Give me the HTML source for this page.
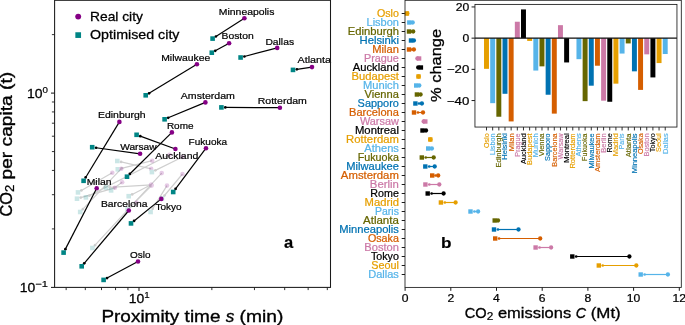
<!DOCTYPE html>
<html lang="en"><head><meta charset="utf-8"><title>Proximity time and CO2 emissions</title>
<style>
html,body{margin:0;padding:0;background:#fff;}
svg{display:block;will-change:transform;}
svg text{font-family:"Liberation Sans",sans-serif;white-space:pre;}
</style></head><body>
<svg width="685" height="325" viewBox="0 0 685 325">
<rect x="0" y="0" width="685" height="325" fill="#fff"/>
<g opacity="0.19">
<line x1="151.20" y1="168.90" x2="121.10" y2="161.89" stroke="#000" stroke-width="1.2" stroke-linecap="butt"/>
<circle cx="121.10" cy="161.89" r="1.35" fill="#000"/>
<line x1="152.20" y1="160.70" x2="121.58" y2="168.35" stroke="#000" stroke-width="1.2" stroke-linecap="butt"/>
<circle cx="121.58" cy="168.35" r="1.35" fill="#000"/>
<line x1="182.50" y1="157.00" x2="155.40" y2="170.37" stroke="#000" stroke-width="1.2" stroke-linecap="butt"/>
<circle cx="155.40" cy="170.37" r="1.35" fill="#000"/>
<line x1="112.30" y1="172.80" x2="81.39" y2="190.47" stroke="#000" stroke-width="1.2" stroke-linecap="butt"/>
<circle cx="81.39" cy="190.47" r="1.35" fill="#000"/>
<line x1="161.70" y1="173.10" x2="95.05" y2="245.14" stroke="#000" stroke-width="1.2" stroke-linecap="butt"/>
<circle cx="95.05" cy="245.14" r="1.35" fill="#000"/>
<line x1="167.00" y1="185.60" x2="152.66" y2="208.69" stroke="#000" stroke-width="1.2" stroke-linecap="butt"/>
<circle cx="152.66" cy="208.69" r="1.35" fill="#000"/>
<line x1="121.30" y1="168.70" x2="82.88" y2="209.17" stroke="#000" stroke-width="1.2" stroke-linecap="butt"/>
<circle cx="82.88" cy="209.17" r="1.35" fill="#000"/>
<line x1="151.00" y1="184.70" x2="132.17" y2="194.41" stroke="#000" stroke-width="1.2" stroke-linecap="butt"/>
<circle cx="132.17" cy="194.41" r="1.35" fill="#000"/>
<line x1="114.90" y1="187.80" x2="80.75" y2="197.62" stroke="#000" stroke-width="1.2" stroke-linecap="butt"/>
<circle cx="80.75" cy="197.62" r="1.35" fill="#000"/>
<line x1="169.50" y1="154.70" x2="89.37" y2="195.63" stroke="#000" stroke-width="1.2" stroke-linecap="butt"/>
<circle cx="89.37" cy="195.63" r="1.35" fill="#000"/>
<line x1="151.30" y1="184.90" x2="109.89" y2="187.37" stroke="#000" stroke-width="1.2" stroke-linecap="butt"/>
<circle cx="109.89" cy="187.37" r="1.35" fill="#000"/>
<line x1="122.20" y1="182.20" x2="114.24" y2="188.08" stroke="#000" stroke-width="1.2" stroke-linecap="butt"/>
<circle cx="114.24" cy="188.08" r="1.35" fill="#000"/>
<line x1="182.50" y1="174.00" x2="164.50" y2="195.51" stroke="#000" stroke-width="1.2" stroke-linecap="butt"/>
<circle cx="164.50" cy="195.51" r="1.35" fill="#000"/>
<line x1="151.60" y1="185.60" x2="130.27" y2="206.75" stroke="#000" stroke-width="1.2" stroke-linecap="butt"/>
<circle cx="130.27" cy="206.75" r="1.35" fill="#000"/>
</g>
<g opacity="0.2">
<circle cx="151.20" cy="168.90" r="2.3" fill="#850085"/>
<rect x="115.00" y="158.70" width="4.6" height="4.6" fill="#008585"/>
<circle cx="152.20" cy="160.70" r="2.3" fill="#850085"/>
<rect x="115.50" y="167.00" width="4.6" height="4.6" fill="#008585"/>
<circle cx="182.50" cy="157.00" r="2.3" fill="#850085"/>
<rect x="149.60" y="169.80" width="4.6" height="4.6" fill="#008585"/>
<circle cx="112.30" cy="172.80" r="2.3" fill="#850085"/>
<rect x="75.70" y="190.10" width="4.6" height="4.6" fill="#008585"/>
<circle cx="161.70" cy="173.10" r="2.3" fill="#850085"/>
<rect x="90.10" y="245.70" width="4.6" height="4.6" fill="#008585"/>
<circle cx="167.00" cy="185.60" r="2.3" fill="#850085"/>
<rect x="148.30" y="209.70" width="4.6" height="4.6" fill="#008585"/>
<circle cx="121.30" cy="168.70" r="2.3" fill="#850085"/>
<rect x="77.90" y="209.70" width="4.6" height="4.6" fill="#008585"/>
<circle cx="151.00" cy="184.70" r="2.3" fill="#850085"/>
<rect x="126.40" y="193.90" width="4.6" height="4.6" fill="#008585"/>
<circle cx="114.90" cy="187.80" r="2.3" fill="#850085"/>
<rect x="74.70" y="196.40" width="4.6" height="4.6" fill="#008585"/>
<circle cx="169.50" cy="154.70" r="2.3" fill="#850085"/>
<rect x="83.60" y="195.10" width="4.6" height="4.6" fill="#008585"/>
<circle cx="151.30" cy="184.90" r="2.3" fill="#850085"/>
<rect x="103.70" y="185.30" width="4.6" height="4.6" fill="#008585"/>
<circle cx="122.20" cy="182.20" r="2.3" fill="#850085"/>
<rect x="108.80" y="188.10" width="4.6" height="4.6" fill="#008585"/>
<circle cx="182.50" cy="174.00" r="2.3" fill="#850085"/>
<rect x="159.70" y="196.20" width="4.6" height="4.6" fill="#008585"/>
<circle cx="151.60" cy="185.60" r="2.3" fill="#850085"/>
<rect x="125.20" y="207.20" width="4.6" height="4.6" fill="#008585"/>
<circle cx="136.60" cy="202.80" r="2.3" fill="#850085"/>
</g>
<line x1="244.40" y1="18.20" x2="215.88" y2="36.49" stroke="#000" stroke-width="1.2" stroke-linecap="butt"/>
<circle cx="215.88" cy="36.49" r="1.35" fill="#000"/>
<line x1="229.10" y1="43.30" x2="215.23" y2="50.84" stroke="#000" stroke-width="1.2" stroke-linecap="butt"/>
<circle cx="215.23" cy="50.84" r="1.35" fill="#000"/>
<line x1="277.20" y1="47.90" x2="244.37" y2="56.51" stroke="#000" stroke-width="1.2" stroke-linecap="butt"/>
<circle cx="244.37" cy="56.51" r="1.35" fill="#000"/>
<line x1="312.00" y1="67.10" x2="296.86" y2="69.33" stroke="#000" stroke-width="1.2" stroke-linecap="butt"/>
<circle cx="296.86" cy="69.33" r="1.35" fill="#000"/>
<line x1="196.90" y1="64.30" x2="149.04" y2="93.28" stroke="#000" stroke-width="1.2" stroke-linecap="butt"/>
<circle cx="149.04" cy="93.28" r="1.35" fill="#000"/>
<line x1="205.40" y1="102.40" x2="168.20" y2="117.81" stroke="#000" stroke-width="1.2" stroke-linecap="butt"/>
<circle cx="168.20" cy="117.81" r="1.35" fill="#000"/>
<line x1="279.90" y1="107.70" x2="225.30" y2="107.42" stroke="#000" stroke-width="1.2" stroke-linecap="butt"/>
<circle cx="225.30" cy="107.42" r="1.35" fill="#000"/>
<line x1="119.40" y1="121.90" x2="85.63" y2="177.47" stroke="#000" stroke-width="1.2" stroke-linecap="butt"/>
<circle cx="85.63" cy="177.47" r="1.35" fill="#000"/>
<line x1="171.90" y1="132.40" x2="129.78" y2="173.96" stroke="#000" stroke-width="1.2" stroke-linecap="butt"/>
<circle cx="129.78" cy="173.96" r="1.35" fill="#000"/>
<line x1="175.40" y1="149.00" x2="140.26" y2="136.14" stroke="#000" stroke-width="1.2" stroke-linecap="butt"/>
<circle cx="140.26" cy="136.14" r="1.35" fill="#000"/>
<line x1="140.10" y1="153.80" x2="96.06" y2="147.73" stroke="#000" stroke-width="1.2" stroke-linecap="butt"/>
<circle cx="96.06" cy="147.73" r="1.35" fill="#000"/>
<line x1="206.00" y1="148.20" x2="175.54" y2="188.88" stroke="#000" stroke-width="1.2" stroke-linecap="butt"/>
<circle cx="175.54" cy="188.88" r="1.35" fill="#000"/>
<line x1="96.70" y1="188.20" x2="65.38" y2="249.13" stroke="#000" stroke-width="1.2" stroke-linecap="butt"/>
<circle cx="65.38" cy="249.13" r="1.35" fill="#000"/>
<line x1="128.80" y1="210.50" x2="84.22" y2="263.32" stroke="#000" stroke-width="1.2" stroke-linecap="butt"/>
<circle cx="84.22" cy="263.32" r="1.35" fill="#000"/>
<line x1="161.30" y1="198.90" x2="134.03" y2="220.95" stroke="#000" stroke-width="1.2" stroke-linecap="butt"/>
<circle cx="134.03" cy="220.95" r="1.35" fill="#000"/>
<line x1="138.00" y1="261.50" x2="107.04" y2="278.06" stroke="#000" stroke-width="1.2" stroke-linecap="butt"/>
<circle cx="107.04" cy="278.06" r="1.35" fill="#000"/>
<circle cx="244.40" cy="18.20" r="2.3" fill="#850085"/>
<rect x="210.30" y="36.30" width="4.6" height="4.6" fill="#008585"/>
<circle cx="229.10" cy="43.30" r="2.3" fill="#850085"/>
<rect x="209.50" y="50.40" width="4.6" height="4.6" fill="#008585"/>
<circle cx="277.20" cy="47.90" r="2.3" fill="#850085"/>
<rect x="238.30" y="55.20" width="4.6" height="4.6" fill="#008585"/>
<circle cx="312.00" cy="67.10" r="2.3" fill="#850085"/>
<rect x="290.70" y="67.60" width="4.6" height="4.6" fill="#008585"/>
<circle cx="196.90" cy="64.30" r="2.3" fill="#850085"/>
<rect x="143.40" y="93.00" width="4.6" height="4.6" fill="#008585"/>
<circle cx="205.40" cy="102.40" r="2.3" fill="#850085"/>
<rect x="162.30" y="117.00" width="4.6" height="4.6" fill="#008585"/>
<circle cx="279.90" cy="107.70" r="2.3" fill="#850085"/>
<rect x="219.10" y="105.10" width="4.6" height="4.6" fill="#008585"/>
<circle cx="119.40" cy="121.90" r="2.3" fill="#850085"/>
<rect x="81.30" y="178.50" width="4.6" height="4.6" fill="#008585"/>
<circle cx="171.90" cy="132.40" r="2.3" fill="#850085"/>
<rect x="124.70" y="174.40" width="4.6" height="4.6" fill="#008585"/>
<circle cx="175.40" cy="149.00" r="2.3" fill="#850085"/>
<rect x="134.30" y="132.50" width="4.6" height="4.6" fill="#008585"/>
<circle cx="140.10" cy="153.80" r="2.3" fill="#850085"/>
<rect x="89.90" y="144.90" width="4.6" height="4.6" fill="#008585"/>
<circle cx="206.00" cy="148.20" r="2.3" fill="#850085"/>
<rect x="170.90" y="189.70" width="4.6" height="4.6" fill="#008585"/>
<circle cx="96.70" cy="188.20" r="2.3" fill="#850085"/>
<rect x="61.30" y="250.30" width="4.6" height="4.6" fill="#008585"/>
<circle cx="128.80" cy="210.50" r="2.3" fill="#850085"/>
<rect x="79.40" y="264.00" width="4.6" height="4.6" fill="#008585"/>
<circle cx="161.30" cy="198.90" r="2.3" fill="#850085"/>
<rect x="128.70" y="221.10" width="4.6" height="4.6" fill="#008585"/>
<circle cx="138.00" cy="261.50" r="2.3" fill="#850085"/>
<rect x="101.30" y="277.60" width="4.6" height="4.6" fill="#008585"/>
<text x="218.80" y="14.70" font-size="9.80" fill="#000" stroke="#000" stroke-width="0.21" text-anchor="start" textLength="55.60" lengthAdjust="spacingAndGlyphs">Minneapolis</text>
<text x="221.50" y="39.40" font-size="9.80" fill="#000" stroke="#000" stroke-width="0.21" text-anchor="start" textLength="32.25" lengthAdjust="spacingAndGlyphs">Boston</text>
<text x="265.40" y="44.55" font-size="9.80" fill="#000" stroke="#000" stroke-width="0.21" text-anchor="start" textLength="28.66" lengthAdjust="spacingAndGlyphs">Dallas</text>
<text x="297.50" y="63.40" font-size="9.80" fill="#000" stroke="#000" stroke-width="0.21" text-anchor="start" textLength="33.48" lengthAdjust="spacingAndGlyphs">Atlanta</text>
<text x="161.20" y="60.50" font-size="9.80" fill="#000" stroke="#000" stroke-width="0.21" text-anchor="start" textLength="49.05" lengthAdjust="spacingAndGlyphs">Milwaukee</text>
<text x="180.80" y="99.10" font-size="9.80" fill="#000" stroke="#000" stroke-width="0.21" text-anchor="start" textLength="54.13" lengthAdjust="spacingAndGlyphs">Amsterdam</text>
<text x="257.70" y="104.10" font-size="9.80" fill="#000" stroke="#000" stroke-width="0.21" text-anchor="start" textLength="49.23" lengthAdjust="spacingAndGlyphs">Rotterdam</text>
<text x="98.00" y="118.00" font-size="9.80" fill="#000" stroke="#000" stroke-width="0.21" text-anchor="start" textLength="47.67" lengthAdjust="spacingAndGlyphs">Edinburgh</text>
<text x="166.90" y="128.60" font-size="9.80" fill="#000" stroke="#000" stroke-width="0.21" text-anchor="start" textLength="26.60" lengthAdjust="spacingAndGlyphs">Rome</text>
<text x="155.30" y="159.10" font-size="9.80" fill="#000" stroke="#000" stroke-width="0.21" text-anchor="start" textLength="42.97" lengthAdjust="spacingAndGlyphs">Auckland</text>
<text x="120.20" y="150.30" font-size="9.80" fill="#000" stroke="#000" stroke-width="0.21" text-anchor="start" textLength="36.39" lengthAdjust="spacingAndGlyphs">Warsaw</text>
<text x="188.60" y="145.20" font-size="9.80" fill="#000" stroke="#000" stroke-width="0.21" text-anchor="start" textLength="38.47" lengthAdjust="spacingAndGlyphs">Fukuoka</text>
<text x="86.70" y="185.10" font-size="9.80" fill="#000" stroke="#000" stroke-width="0.21" text-anchor="start" textLength="24.87" lengthAdjust="spacingAndGlyphs">Milan</text>
<text x="100.90" y="207.00" font-size="9.80" fill="#000" stroke="#000" stroke-width="0.21" text-anchor="start" textLength="46.55" lengthAdjust="spacingAndGlyphs">Barcelona</text>
<text x="155.40" y="209.60" font-size="9.80" fill="#000" stroke="#000" stroke-width="0.21" text-anchor="start" textLength="26.12" lengthAdjust="spacingAndGlyphs">Tokyo</text>
<text x="130.00" y="258.20" font-size="9.80" fill="#000" stroke="#000" stroke-width="0.21" text-anchor="start" textLength="20.50" lengthAdjust="spacingAndGlyphs">Oslo</text>
<circle cx="78.20" cy="16.60" r="2.95" fill="#850085"/>
<rect x="75.35" y="32.25" width="5.7" height="5.7" fill="#008585"/>
<text x="90.00" y="20.70" font-size="12.97" fill="#000" stroke="#000" stroke-width="0.27" text-anchor="start" textLength="52.92" lengthAdjust="spacingAndGlyphs">Real city</text>
<text x="90.00" y="38.50" font-size="12.97" fill="#000" stroke="#000" stroke-width="0.27" text-anchor="start" textLength="89.47" lengthAdjust="spacingAndGlyphs">Optimised city</text>
<line x1="66.15" y1="287.40" x2="66.15" y2="290.10" stroke="#1a1a1a" stroke-width="0.9"/>
<line x1="85.31" y1="287.40" x2="85.31" y2="290.10" stroke="#1a1a1a" stroke-width="0.9"/>
<line x1="101.51" y1="287.40" x2="101.51" y2="290.10" stroke="#1a1a1a" stroke-width="0.9"/>
<line x1="115.55" y1="287.40" x2="115.55" y2="290.10" stroke="#1a1a1a" stroke-width="0.9"/>
<line x1="127.93" y1="287.40" x2="127.93" y2="290.10" stroke="#1a1a1a" stroke-width="0.9"/>
<line x1="211.85" y1="287.40" x2="211.85" y2="290.10" stroke="#1a1a1a" stroke-width="0.9"/>
<line x1="254.46" y1="287.40" x2="254.46" y2="290.10" stroke="#1a1a1a" stroke-width="0.9"/>
<line x1="284.70" y1="287.40" x2="284.70" y2="290.10" stroke="#1a1a1a" stroke-width="0.9"/>
<line x1="308.15" y1="287.40" x2="308.15" y2="290.10" stroke="#1a1a1a" stroke-width="0.9"/>
<line x1="327.31" y1="287.40" x2="327.31" y2="290.10" stroke="#1a1a1a" stroke-width="0.9"/>
<line x1="139.00" y1="287.40" x2="139.00" y2="291.00" stroke="#1a1a1a" stroke-width="1.05"/>
<line x1="54.60" y1="228.91" x2="51.90" y2="228.91" stroke="#1a1a1a" stroke-width="0.9"/>
<line x1="54.60" y1="194.70" x2="51.90" y2="194.70" stroke="#1a1a1a" stroke-width="0.9"/>
<line x1="54.60" y1="170.42" x2="51.90" y2="170.42" stroke="#1a1a1a" stroke-width="0.9"/>
<line x1="54.60" y1="151.59" x2="51.90" y2="151.59" stroke="#1a1a1a" stroke-width="0.9"/>
<line x1="54.60" y1="136.21" x2="51.90" y2="136.21" stroke="#1a1a1a" stroke-width="0.9"/>
<line x1="54.60" y1="123.20" x2="51.90" y2="123.20" stroke="#1a1a1a" stroke-width="0.9"/>
<line x1="54.60" y1="111.93" x2="51.90" y2="111.93" stroke="#1a1a1a" stroke-width="0.9"/>
<line x1="54.60" y1="101.99" x2="51.90" y2="101.99" stroke="#1a1a1a" stroke-width="0.9"/>
<line x1="54.60" y1="34.61" x2="51.90" y2="34.61" stroke="#1a1a1a" stroke-width="0.9"/>
<line x1="54.60" y1="93.10" x2="51.00" y2="93.10" stroke="#1a1a1a" stroke-width="1.05"/>
<line x1="54.60" y1="287.40" x2="51.00" y2="287.40" stroke="#1a1a1a" stroke-width="1.05"/>
<rect x="54.6" y="0.3" width="275.90" height="287.10" fill="none" stroke="#1a1a1a" stroke-width="1.05"/>
<text x="26.94" y="97.70" font-size="12.81" fill="#000" stroke="#000" stroke-width="0.27" text-anchor="start" textLength="15.52" lengthAdjust="spacingAndGlyphs">10</text>
<text x="42.47" y="93.06" font-size="8.97" fill="#000" stroke="#000" stroke-width="0.19" text-anchor="start" textLength="5.43" lengthAdjust="spacingAndGlyphs">0</text>
<text x="19.79" y="292.00" font-size="12.81" fill="#000" stroke="#000" stroke-width="0.27" text-anchor="start" textLength="15.52" lengthAdjust="spacingAndGlyphs">10</text>
<text x="35.31" y="287.36" font-size="8.97" fill="#000" stroke="#000" stroke-width="0.19" text-anchor="start" textLength="12.59" lengthAdjust="spacingAndGlyphs">−1</text>
<text x="128.82" y="302.60" font-size="12.81" fill="#000" stroke="#000" stroke-width="0.27" text-anchor="start" textLength="15.52" lengthAdjust="spacingAndGlyphs">10</text>
<text x="144.35" y="297.96" font-size="8.97" fill="#000" stroke="#000" stroke-width="0.19" text-anchor="start" textLength="5.43" lengthAdjust="spacingAndGlyphs">1</text>
<text x="101.42" y="321.50" font-size="17.27" fill="#000" stroke="#000" stroke-width="0.36" text-anchor="start" textLength="124.30" lengthAdjust="spacingAndGlyphs">Proximity time </text>
<text x="225.72" y="321.50" font-size="17.27" fill="#000" stroke="#000" stroke-width="0.36" text-anchor="start" textLength="8.57" lengthAdjust="spacingAndGlyphs" font-style="italic">s</text>
<text x="234.29" y="321.50" font-size="17.27" fill="#000" stroke="#000" stroke-width="0.36" text-anchor="start" textLength="49.09" lengthAdjust="spacingAndGlyphs"> (min)</text>
<g transform="translate(12.20,144.20) rotate(-90)">
<text x="-72.37" y="0.00" font-size="17.27" fill="#000" stroke="#000" stroke-width="0.36" text-anchor="start" textLength="24.43" lengthAdjust="spacingAndGlyphs">CO</text>
<text x="-47.93" y="2.10" font-size="12.09" fill="#000" stroke="#000" stroke-width="0.25" text-anchor="start" textLength="7.33" lengthAdjust="spacingAndGlyphs">2</text>
<text x="-40.60" y="0.00" font-size="17.27" fill="#000" stroke="#000" stroke-width="0.36" text-anchor="start" textLength="112.97" lengthAdjust="spacingAndGlyphs"> per capita (t)</text>
</g>
<text x="284.00" y="248.00" font-size="16.80" fill="#000" stroke="#000" stroke-width="0.19" text-anchor="start" textLength="9.20" lengthAdjust="spacingAndGlyphs" font-weight="bold">a</text>
<line x1="405.00" y1="13.50" x2="401.70" y2="13.50" stroke="#1a1a1a" stroke-width="1.0"/>
<line x1="405.00" y1="22.50" x2="401.70" y2="22.50" stroke="#1a1a1a" stroke-width="1.0"/>
<line x1="405.00" y1="31.50" x2="401.70" y2="31.50" stroke="#1a1a1a" stroke-width="1.0"/>
<line x1="405.00" y1="40.50" x2="401.70" y2="40.50" stroke="#1a1a1a" stroke-width="1.0"/>
<line x1="405.00" y1="49.50" x2="401.70" y2="49.50" stroke="#1a1a1a" stroke-width="1.0"/>
<line x1="405.00" y1="58.50" x2="401.70" y2="58.50" stroke="#1a1a1a" stroke-width="1.0"/>
<line x1="405.00" y1="67.50" x2="401.70" y2="67.50" stroke="#1a1a1a" stroke-width="1.0"/>
<line x1="405.00" y1="76.50" x2="401.70" y2="76.50" stroke="#1a1a1a" stroke-width="1.0"/>
<line x1="405.00" y1="85.50" x2="401.70" y2="85.50" stroke="#1a1a1a" stroke-width="1.0"/>
<line x1="405.00" y1="94.50" x2="401.70" y2="94.50" stroke="#1a1a1a" stroke-width="1.0"/>
<line x1="405.00" y1="103.50" x2="401.70" y2="103.50" stroke="#1a1a1a" stroke-width="1.0"/>
<line x1="405.00" y1="112.50" x2="401.70" y2="112.50" stroke="#1a1a1a" stroke-width="1.0"/>
<line x1="405.00" y1="121.50" x2="401.70" y2="121.50" stroke="#1a1a1a" stroke-width="1.0"/>
<line x1="405.00" y1="130.50" x2="401.70" y2="130.50" stroke="#1a1a1a" stroke-width="1.0"/>
<line x1="405.00" y1="139.50" x2="401.70" y2="139.50" stroke="#1a1a1a" stroke-width="1.0"/>
<line x1="405.00" y1="148.50" x2="401.70" y2="148.50" stroke="#1a1a1a" stroke-width="1.0"/>
<line x1="405.00" y1="157.50" x2="401.70" y2="157.50" stroke="#1a1a1a" stroke-width="1.0"/>
<line x1="405.00" y1="166.50" x2="401.70" y2="166.50" stroke="#1a1a1a" stroke-width="1.0"/>
<line x1="405.00" y1="175.50" x2="401.70" y2="175.50" stroke="#1a1a1a" stroke-width="1.0"/>
<line x1="405.00" y1="184.50" x2="401.70" y2="184.50" stroke="#1a1a1a" stroke-width="1.0"/>
<line x1="405.00" y1="193.50" x2="401.70" y2="193.50" stroke="#1a1a1a" stroke-width="1.0"/>
<line x1="405.00" y1="202.50" x2="401.70" y2="202.50" stroke="#1a1a1a" stroke-width="1.0"/>
<line x1="405.00" y1="211.50" x2="401.70" y2="211.50" stroke="#1a1a1a" stroke-width="1.0"/>
<line x1="405.00" y1="220.50" x2="401.70" y2="220.50" stroke="#1a1a1a" stroke-width="1.0"/>
<line x1="405.00" y1="229.50" x2="401.70" y2="229.50" stroke="#1a1a1a" stroke-width="1.0"/>
<line x1="405.00" y1="238.50" x2="401.70" y2="238.50" stroke="#1a1a1a" stroke-width="1.0"/>
<line x1="405.00" y1="247.50" x2="401.70" y2="247.50" stroke="#1a1a1a" stroke-width="1.0"/>
<line x1="405.00" y1="256.50" x2="401.70" y2="256.50" stroke="#1a1a1a" stroke-width="1.0"/>
<line x1="405.00" y1="265.50" x2="401.70" y2="265.50" stroke="#1a1a1a" stroke-width="1.0"/>
<line x1="405.00" y1="274.50" x2="401.70" y2="274.50" stroke="#1a1a1a" stroke-width="1.0"/>
<rect x="404.70" y="11.30" width="4.4" height="4.4" fill="#E69F00"/>
<circle cx="407.30" cy="13.50" r="2.15" fill="#E69F00"/>
<text x="398.90" y="16.80" font-size="10.50" fill="#E69F00" stroke="#E69F00" stroke-width="0.22" text-anchor="end" textLength="21.98" lengthAdjust="spacingAndGlyphs">Oslo</text>
<line x1="412.70" y1="22.50" x2="411.17" y2="22.50" stroke="#56B4E9" stroke-width="1.2"/>
<circle cx="411.17" cy="22.50" r="1.35" fill="#56B4E9"/>
<rect x="407.10" y="20.30" width="4.4" height="4.4" fill="#56B4E9"/>
<circle cx="412.70" cy="22.50" r="2.15" fill="#56B4E9"/>
<text x="398.90" y="25.80" font-size="10.50" fill="#56B4E9" stroke="#56B4E9" stroke-width="0.22" text-anchor="end" textLength="32.36" lengthAdjust="spacingAndGlyphs">Lisbon</text>
<line x1="413.20" y1="31.50" x2="411.31" y2="31.50" stroke="#666600" stroke-width="1.2"/>
<circle cx="411.31" cy="31.50" r="1.35" fill="#666600"/>
<rect x="406.80" y="29.30" width="4.4" height="4.4" fill="#666600"/>
<circle cx="413.20" cy="31.50" r="2.15" fill="#666600"/>
<text x="398.90" y="34.80" font-size="10.50" fill="#666600" stroke="#666600" stroke-width="0.22" text-anchor="end" textLength="51.09" lengthAdjust="spacingAndGlyphs">Edinburgh</text>
<line x1="413.90" y1="40.50" x2="412.59" y2="40.50" stroke="#0072B2" stroke-width="1.2"/>
<circle cx="412.59" cy="40.50" r="1.35" fill="#0072B2"/>
<rect x="408.80" y="38.30" width="4.4" height="4.4" fill="#0072B2"/>
<circle cx="413.90" cy="40.50" r="2.15" fill="#0072B2"/>
<text x="398.90" y="43.80" font-size="10.50" fill="#0072B2" stroke="#0072B2" stroke-width="0.22" text-anchor="end" textLength="39.35" lengthAdjust="spacingAndGlyphs">Helsinki</text>
<line x1="413.90" y1="49.50" x2="411.69" y2="49.50" stroke="#D55E00" stroke-width="1.2"/>
<circle cx="411.69" cy="49.50" r="1.35" fill="#D55E00"/>
<rect x="406.80" y="47.30" width="4.4" height="4.4" fill="#D55E00"/>
<circle cx="413.90" cy="49.50" r="2.15" fill="#D55E00"/>
<text x="398.90" y="52.80" font-size="10.50" fill="#D55E00" stroke="#D55E00" stroke-width="0.22" text-anchor="end" textLength="26.65" lengthAdjust="spacingAndGlyphs">Milan</text>
<line x1="417.40" y1="58.50" x2="418.17" y2="58.50" stroke="#CC79A7" stroke-width="1.2"/>
<circle cx="418.17" cy="58.50" r="1.35" fill="#CC79A7"/>
<rect x="416.90" y="56.30" width="4.4" height="4.4" fill="#CC79A7"/>
<circle cx="417.40" cy="58.50" r="2.15" fill="#CC79A7"/>
<text x="398.90" y="61.80" font-size="10.50" fill="#CC79A7" stroke="#CC79A7" stroke-width="0.22" text-anchor="end" textLength="34.93" lengthAdjust="spacingAndGlyphs">Prague</text>
<line x1="418.20" y1="67.50" x2="419.41" y2="67.50" stroke="#000000" stroke-width="1.2"/>
<circle cx="419.41" cy="67.50" r="1.35" fill="#000000"/>
<rect x="418.70" y="65.30" width="4.4" height="4.4" fill="#000000"/>
<circle cx="418.20" cy="67.50" r="2.15" fill="#000000"/>
<text x="398.90" y="70.80" font-size="10.50" fill="#000000" stroke="#000000" stroke-width="0.22" text-anchor="end" textLength="46.06" lengthAdjust="spacingAndGlyphs">Auckland</text>
<rect x="416.30" y="74.30" width="4.4" height="4.4" fill="#E69F00"/>
<circle cx="418.60" cy="76.50" r="2.15" fill="#E69F00"/>
<text x="398.90" y="79.80" font-size="10.50" fill="#E69F00" stroke="#E69F00" stroke-width="0.22" text-anchor="end" textLength="47.31" lengthAdjust="spacingAndGlyphs">Budapest</text>
<line x1="419.30" y1="85.50" x2="417.91" y2="85.50" stroke="#56B4E9" stroke-width="1.2"/>
<circle cx="417.91" cy="85.50" r="1.35" fill="#56B4E9"/>
<rect x="414.00" y="83.30" width="4.4" height="4.4" fill="#56B4E9"/>
<circle cx="419.30" cy="85.50" r="2.15" fill="#56B4E9"/>
<text x="398.90" y="88.80" font-size="10.50" fill="#56B4E9" stroke="#56B4E9" stroke-width="0.22" text-anchor="end" textLength="35.92" lengthAdjust="spacingAndGlyphs">Munich</text>
<line x1="420.60" y1="94.50" x2="418.94" y2="94.50" stroke="#666600" stroke-width="1.2"/>
<circle cx="418.94" cy="94.50" r="1.35" fill="#666600"/>
<rect x="414.70" y="92.30" width="4.4" height="4.4" fill="#666600"/>
<circle cx="420.60" cy="94.50" r="2.15" fill="#666600"/>
<text x="398.90" y="97.80" font-size="10.50" fill="#666600" stroke="#666600" stroke-width="0.22" text-anchor="end" textLength="34.36" lengthAdjust="spacingAndGlyphs">Vienna</text>
<line x1="421.90" y1="103.50" x2="418.97" y2="103.50" stroke="#0072B2" stroke-width="1.2"/>
<circle cx="418.97" cy="103.50" r="1.35" fill="#0072B2"/>
<rect x="413.20" y="101.30" width="4.4" height="4.4" fill="#0072B2"/>
<circle cx="421.90" cy="103.50" r="2.15" fill="#0072B2"/>
<text x="398.90" y="106.80" font-size="10.50" fill="#0072B2" stroke="#0072B2" stroke-width="0.22" text-anchor="end" textLength="41.30" lengthAdjust="spacingAndGlyphs">Sapporo</text>
<line x1="423.00" y1="112.50" x2="417.90" y2="112.50" stroke="#D55E00" stroke-width="1.2"/>
<circle cx="417.90" cy="112.50" r="1.35" fill="#D55E00"/>
<rect x="411.80" y="110.30" width="4.4" height="4.4" fill="#D55E00"/>
<circle cx="423.00" cy="112.50" r="2.15" fill="#D55E00"/>
<text x="398.90" y="115.80" font-size="10.50" fill="#D55E00" stroke="#D55E00" stroke-width="0.22" text-anchor="end" textLength="49.89" lengthAdjust="spacingAndGlyphs">Barcelona</text>
<line x1="423.60" y1="121.50" x2="424.37" y2="121.50" stroke="#CC79A7" stroke-width="1.2"/>
<circle cx="424.37" cy="121.50" r="1.35" fill="#CC79A7"/>
<rect x="423.10" y="119.30" width="4.4" height="4.4" fill="#CC79A7"/>
<circle cx="423.60" cy="121.50" r="2.15" fill="#CC79A7"/>
<text x="398.90" y="124.80" font-size="10.50" fill="#CC79A7" stroke="#CC79A7" stroke-width="0.22" text-anchor="end" textLength="39.00" lengthAdjust="spacingAndGlyphs">Warsaw</text>
<line x1="426.00" y1="130.50" x2="424.43" y2="130.50" stroke="#000000" stroke-width="1.2"/>
<circle cx="424.43" cy="130.50" r="1.35" fill="#000000"/>
<rect x="420.30" y="128.30" width="4.4" height="4.4" fill="#000000"/>
<circle cx="426.00" cy="130.50" r="2.15" fill="#000000"/>
<text x="398.90" y="133.80" font-size="10.50" fill="#000000" stroke="#000000" stroke-width="0.22" text-anchor="end" textLength="43.96" lengthAdjust="spacingAndGlyphs">Montreal</text>
<rect x="428.10" y="137.30" width="4.4" height="4.4" fill="#E69F00"/>
<circle cx="430.40" cy="139.50" r="2.15" fill="#E69F00"/>
<text x="398.90" y="142.80" font-size="10.50" fill="#E69F00" stroke="#E69F00" stroke-width="0.22" text-anchor="end" textLength="52.76" lengthAdjust="spacingAndGlyphs">Rotterdam</text>
<line x1="431.90" y1="148.50" x2="430.23" y2="148.50" stroke="#56B4E9" stroke-width="1.2"/>
<circle cx="430.23" cy="148.50" r="1.35" fill="#56B4E9"/>
<rect x="426.00" y="146.30" width="4.4" height="4.4" fill="#56B4E9"/>
<circle cx="431.90" cy="148.50" r="2.15" fill="#56B4E9"/>
<text x="398.90" y="151.80" font-size="10.50" fill="#56B4E9" stroke="#56B4E9" stroke-width="0.22" text-anchor="end" textLength="34.62" lengthAdjust="spacingAndGlyphs">Athens</text>
<line x1="433.70" y1="157.50" x2="425.70" y2="157.50" stroke="#666600" stroke-width="1.2"/>
<circle cx="425.70" cy="157.50" r="1.35" fill="#666600"/>
<rect x="419.60" y="155.30" width="4.4" height="4.4" fill="#666600"/>
<circle cx="433.70" cy="157.50" r="2.15" fill="#666600"/>
<text x="398.90" y="160.80" font-size="10.50" fill="#666600" stroke="#666600" stroke-width="0.22" text-anchor="end" textLength="41.23" lengthAdjust="spacingAndGlyphs">Fukuoka</text>
<line x1="434.70" y1="166.50" x2="429.20" y2="166.50" stroke="#0072B2" stroke-width="1.2"/>
<circle cx="429.20" cy="166.50" r="1.35" fill="#0072B2"/>
<rect x="423.10" y="164.30" width="4.4" height="4.4" fill="#0072B2"/>
<circle cx="434.70" cy="166.50" r="2.15" fill="#0072B2"/>
<text x="398.90" y="169.80" font-size="10.50" fill="#0072B2" stroke="#0072B2" stroke-width="0.22" text-anchor="end" textLength="52.57" lengthAdjust="spacingAndGlyphs">Milwaukee</text>
<line x1="438.20" y1="175.50" x2="435.50" y2="175.50" stroke="#D55E00" stroke-width="1.2"/>
<circle cx="435.50" cy="175.50" r="1.35" fill="#D55E00"/>
<rect x="430.00" y="173.30" width="4.4" height="4.4" fill="#D55E00"/>
<circle cx="438.20" cy="175.50" r="2.15" fill="#D55E00"/>
<text x="398.90" y="178.80" font-size="10.50" fill="#D55E00" stroke="#D55E00" stroke-width="0.22" text-anchor="end" textLength="58.02" lengthAdjust="spacingAndGlyphs">Amsterdam</text>
<line x1="439.30" y1="184.50" x2="429.30" y2="184.50" stroke="#CC79A7" stroke-width="1.2"/>
<circle cx="429.30" cy="184.50" r="1.35" fill="#CC79A7"/>
<rect x="423.20" y="182.30" width="4.4" height="4.4" fill="#CC79A7"/>
<circle cx="439.30" cy="184.50" r="2.15" fill="#CC79A7"/>
<text x="398.90" y="187.80" font-size="10.50" fill="#CC79A7" stroke="#CC79A7" stroke-width="0.22" text-anchor="end" textLength="29.02" lengthAdjust="spacingAndGlyphs">Berlin</text>
<line x1="443.60" y1="193.50" x2="431.60" y2="193.50" stroke="#000000" stroke-width="1.2"/>
<circle cx="431.60" cy="193.50" r="1.35" fill="#000000"/>
<rect x="425.50" y="191.30" width="4.4" height="4.4" fill="#000000"/>
<circle cx="443.60" cy="193.50" r="2.15" fill="#000000"/>
<text x="398.90" y="196.80" font-size="10.50" fill="#000000" stroke="#000000" stroke-width="0.22" text-anchor="end" textLength="28.51" lengthAdjust="spacingAndGlyphs">Rome</text>
<line x1="455.60" y1="202.50" x2="444.80" y2="202.50" stroke="#E69F00" stroke-width="1.2"/>
<circle cx="444.80" cy="202.50" r="1.35" fill="#E69F00"/>
<rect x="438.70" y="200.30" width="4.4" height="4.4" fill="#E69F00"/>
<circle cx="455.60" cy="202.50" r="2.15" fill="#E69F00"/>
<text x="398.90" y="205.80" font-size="10.50" fill="#E69F00" stroke="#E69F00" stroke-width="0.22" text-anchor="end" textLength="34.34" lengthAdjust="spacingAndGlyphs">Madrid</text>
<line x1="478.10" y1="211.50" x2="474.40" y2="211.50" stroke="#56B4E9" stroke-width="1.2"/>
<circle cx="474.40" cy="211.50" r="1.35" fill="#56B4E9"/>
<rect x="468.30" y="209.30" width="4.4" height="4.4" fill="#56B4E9"/>
<circle cx="478.10" cy="211.50" r="2.15" fill="#56B4E9"/>
<text x="398.90" y="214.80" font-size="10.50" fill="#56B4E9" stroke="#56B4E9" stroke-width="0.22" text-anchor="end" textLength="23.81" lengthAdjust="spacingAndGlyphs">Paris</text>
<line x1="498.00" y1="220.50" x2="496.51" y2="220.50" stroke="#666600" stroke-width="1.2"/>
<circle cx="496.51" cy="220.50" r="1.35" fill="#666600"/>
<rect x="492.50" y="218.30" width="4.4" height="4.4" fill="#666600"/>
<circle cx="498.00" cy="220.50" r="2.15" fill="#666600"/>
<text x="398.90" y="223.80" font-size="10.50" fill="#666600" stroke="#666600" stroke-width="0.22" text-anchor="end" textLength="35.88" lengthAdjust="spacingAndGlyphs">Atlanta</text>
<line x1="518.50" y1="229.50" x2="497.90" y2="229.50" stroke="#0072B2" stroke-width="1.2"/>
<circle cx="497.90" cy="229.50" r="1.35" fill="#0072B2"/>
<rect x="491.80" y="227.30" width="4.4" height="4.4" fill="#0072B2"/>
<circle cx="518.50" cy="229.50" r="2.15" fill="#0072B2"/>
<text x="398.90" y="232.80" font-size="10.50" fill="#0072B2" stroke="#0072B2" stroke-width="0.22" text-anchor="end" textLength="59.60" lengthAdjust="spacingAndGlyphs">Minneapolis</text>
<line x1="540.20" y1="238.50" x2="499.10" y2="238.50" stroke="#D55E00" stroke-width="1.2"/>
<circle cx="499.10" cy="238.50" r="1.35" fill="#D55E00"/>
<rect x="493.00" y="236.30" width="4.4" height="4.4" fill="#D55E00"/>
<circle cx="540.20" cy="238.50" r="2.15" fill="#D55E00"/>
<text x="398.90" y="241.80" font-size="10.50" fill="#D55E00" stroke="#D55E00" stroke-width="0.22" text-anchor="end" textLength="30.95" lengthAdjust="spacingAndGlyphs">Osaka</text>
<line x1="551.10" y1="247.50" x2="539.50" y2="247.50" stroke="#CC79A7" stroke-width="1.2"/>
<circle cx="539.50" cy="247.50" r="1.35" fill="#CC79A7"/>
<rect x="533.40" y="245.30" width="4.4" height="4.4" fill="#CC79A7"/>
<circle cx="551.10" cy="247.50" r="2.15" fill="#CC79A7"/>
<text x="398.90" y="250.80" font-size="10.50" fill="#CC79A7" stroke="#CC79A7" stroke-width="0.22" text-anchor="end" textLength="34.57" lengthAdjust="spacingAndGlyphs">Boston</text>
<line x1="629.40" y1="256.50" x2="576.20" y2="256.50" stroke="#000000" stroke-width="1.2"/>
<circle cx="576.20" cy="256.50" r="1.35" fill="#000000"/>
<rect x="570.10" y="254.30" width="4.4" height="4.4" fill="#000000"/>
<circle cx="629.40" cy="256.50" r="2.15" fill="#000000"/>
<text x="398.90" y="259.80" font-size="10.50" fill="#000000" stroke="#000000" stroke-width="0.22" text-anchor="end" textLength="28.00" lengthAdjust="spacingAndGlyphs">Tokyo</text>
<line x1="636.30" y1="265.50" x2="602.70" y2="265.50" stroke="#E69F00" stroke-width="1.2"/>
<circle cx="602.70" cy="265.50" r="1.35" fill="#E69F00"/>
<rect x="596.60" y="263.30" width="4.4" height="4.4" fill="#E69F00"/>
<circle cx="636.30" cy="265.50" r="2.15" fill="#E69F00"/>
<text x="398.90" y="268.80" font-size="10.50" fill="#E69F00" stroke="#E69F00" stroke-width="0.22" text-anchor="end" textLength="27.73" lengthAdjust="spacingAndGlyphs">Seoul</text>
<line x1="667.90" y1="274.50" x2="644.60" y2="274.50" stroke="#56B4E9" stroke-width="1.2"/>
<circle cx="644.60" cy="274.50" r="1.35" fill="#56B4E9"/>
<rect x="638.50" y="272.30" width="4.4" height="4.4" fill="#56B4E9"/>
<circle cx="667.90" cy="274.50" r="2.15" fill="#56B4E9"/>
<text x="398.90" y="277.80" font-size="10.50" fill="#56B4E9" stroke="#56B4E9" stroke-width="0.22" text-anchor="end" textLength="30.72" lengthAdjust="spacingAndGlyphs">Dallas</text>
<line x1="405.10" y1="287.40" x2="405.10" y2="290.80" stroke="#1a1a1a" stroke-width="1.0"/>
<text x="405.10" y="301.90" font-size="11.13" fill="#000" stroke="#000" stroke-width="0.23" text-anchor="middle" textLength="6.74" lengthAdjust="spacingAndGlyphs">0</text>
<line x1="450.80" y1="287.40" x2="450.80" y2="290.80" stroke="#1a1a1a" stroke-width="1.0"/>
<text x="450.80" y="301.90" font-size="11.13" fill="#000" stroke="#000" stroke-width="0.23" text-anchor="middle" textLength="6.74" lengthAdjust="spacingAndGlyphs">2</text>
<line x1="496.50" y1="287.40" x2="496.50" y2="290.80" stroke="#1a1a1a" stroke-width="1.0"/>
<text x="496.50" y="301.90" font-size="11.13" fill="#000" stroke="#000" stroke-width="0.23" text-anchor="middle" textLength="6.74" lengthAdjust="spacingAndGlyphs">4</text>
<line x1="542.20" y1="287.40" x2="542.20" y2="290.80" stroke="#1a1a1a" stroke-width="1.0"/>
<text x="542.20" y="301.90" font-size="11.13" fill="#000" stroke="#000" stroke-width="0.23" text-anchor="middle" textLength="6.74" lengthAdjust="spacingAndGlyphs">6</text>
<line x1="587.90" y1="287.40" x2="587.90" y2="290.80" stroke="#1a1a1a" stroke-width="1.0"/>
<text x="587.90" y="301.90" font-size="11.13" fill="#000" stroke="#000" stroke-width="0.23" text-anchor="middle" textLength="6.74" lengthAdjust="spacingAndGlyphs">8</text>
<line x1="633.60" y1="287.40" x2="633.60" y2="290.80" stroke="#1a1a1a" stroke-width="1.0"/>
<text x="633.60" y="301.90" font-size="11.13" fill="#000" stroke="#000" stroke-width="0.23" text-anchor="middle" textLength="13.49" lengthAdjust="spacingAndGlyphs">10</text>
<line x1="679.30" y1="287.40" x2="679.30" y2="290.80" stroke="#1a1a1a" stroke-width="1.0"/>
<text x="679.30" y="301.90" font-size="11.13" fill="#000" stroke="#000" stroke-width="0.23" text-anchor="middle" textLength="13.49" lengthAdjust="spacingAndGlyphs">12</text>
<rect x="405.0" y="0.3" width="276.30" height="287.10" fill="none" stroke="#1a1a1a" stroke-width="0.85"/>
<text x="464.83" y="318.00" font-size="15.49" fill="#000" stroke="#000" stroke-width="0.32" text-anchor="start" textLength="21.91" lengthAdjust="spacingAndGlyphs">CO</text>
<text x="486.74" y="320.40" font-size="10.84" fill="#000" stroke="#000" stroke-width="0.23" text-anchor="start" textLength="6.57" lengthAdjust="spacingAndGlyphs">2</text>
<text x="493.31" y="318.00" font-size="15.49" fill="#000" stroke="#000" stroke-width="0.32" text-anchor="start" textLength="82.44" lengthAdjust="spacingAndGlyphs"> emissions </text>
<text x="575.76" y="318.00" font-size="15.49" fill="#000" stroke="#000" stroke-width="0.32" text-anchor="start" textLength="10.30" lengthAdjust="spacingAndGlyphs" font-style="italic">C</text>
<text x="586.06" y="318.00" font-size="15.49" fill="#000" stroke="#000" stroke-width="0.32" text-anchor="start" textLength="34.71" lengthAdjust="spacingAndGlyphs"> (Mt)</text>
<text x="440.90" y="247.60" font-size="15.40" fill="#000" stroke="#000" stroke-width="0.18" text-anchor="start" textLength="10.50" lengthAdjust="spacingAndGlyphs" font-weight="bold">b</text>
<rect x="474.95" y="4.4" width="202.00000000000006" height="122.64999999999999" fill="#fff" stroke="none"/>
<rect x="484.02" y="38.15" width="4.95" height="30.69" fill="#E69F00"/>
<rect x="490.19" y="38.15" width="4.95" height="65.01" fill="#56B4E9"/>
<rect x="496.35" y="38.15" width="4.95" height="78.59" fill="#666600"/>
<rect x="502.51" y="38.15" width="4.95" height="55.65" fill="#0072B2"/>
<rect x="508.68" y="38.15" width="4.95" height="83.27" fill="#D55E00"/>
<rect x="514.84" y="21.73" width="4.95" height="16.42" fill="#CC79A7"/>
<rect x="521.00" y="9.41" width="4.95" height="28.74" fill="#000000"/>
<rect x="527.17" y="38.15" width="4.95" height="2.77" fill="#E69F00"/>
<rect x="533.33" y="38.15" width="4.95" height="32.41" fill="#56B4E9"/>
<rect x="539.49" y="38.15" width="4.95" height="28.20" fill="#666600"/>
<rect x="545.65" y="38.15" width="4.95" height="56.59" fill="#0072B2"/>
<rect x="551.82" y="38.15" width="4.95" height="75.47" fill="#D55E00"/>
<rect x="557.98" y="25.16" width="4.95" height="12.99" fill="#CC79A7"/>
<rect x="564.14" y="38.15" width="4.95" height="24.30" fill="#000000"/>
<rect x="570.31" y="38.15" width="4.95" height="0.12" fill="#E69F00"/>
<rect x="576.47" y="38.15" width="4.95" height="21.02" fill="#56B4E9"/>
<rect x="582.63" y="38.15" width="4.95" height="62.99" fill="#666600"/>
<rect x="588.80" y="38.15" width="4.95" height="47.54" fill="#0072B2"/>
<rect x="594.96" y="38.15" width="4.95" height="27.57" fill="#D55E00"/>
<rect x="601.12" y="38.15" width="4.95" height="62.52" fill="#CC79A7"/>
<rect x="607.28" y="38.15" width="4.95" height="63.61" fill="#000000"/>
<rect x="613.45" y="38.15" width="4.95" height="45.51" fill="#E69F00"/>
<rect x="619.61" y="38.15" width="4.95" height="15.41" fill="#56B4E9"/>
<rect x="625.77" y="38.15" width="4.95" height="5.27" fill="#666600"/>
<rect x="631.94" y="38.15" width="4.95" height="33.19" fill="#0072B2"/>
<rect x="638.10" y="38.15" width="4.95" height="51.75" fill="#D55E00"/>
<rect x="644.26" y="38.15" width="4.95" height="16.19" fill="#CC79A7"/>
<rect x="650.43" y="38.15" width="4.95" height="39.27" fill="#000000"/>
<rect x="656.59" y="38.15" width="4.95" height="24.92" fill="#E69F00"/>
<rect x="662.75" y="38.15" width="4.95" height="15.87" fill="#56B4E9"/>
<line x1="474.95" y1="38.15" x2="676.95" y2="38.15" stroke="#111" stroke-width="1.25"/>
<line x1="486.50" y1="127.05" x2="486.50" y2="130.45" stroke="#1a1a1a" stroke-width="0.9"/>
<text font-size="7.00" fill="#E69F00" stroke="#E69F00" stroke-width="0.15" text-anchor="end" textLength="14.66" lengthAdjust="spacingAndGlyphs" transform="translate(488.85,133.40) rotate(-90)">Oslo</text>
<line x1="492.66" y1="127.05" x2="492.66" y2="130.45" stroke="#1a1a1a" stroke-width="0.9"/>
<text font-size="7.00" fill="#56B4E9" stroke="#56B4E9" stroke-width="0.15" text-anchor="end" textLength="21.59" lengthAdjust="spacingAndGlyphs" transform="translate(495.01,133.40) rotate(-90)">Lisbon</text>
<line x1="498.83" y1="127.05" x2="498.83" y2="130.45" stroke="#1a1a1a" stroke-width="0.9"/>
<text font-size="7.00" fill="#666600" stroke="#666600" stroke-width="0.15" text-anchor="end" textLength="34.08" lengthAdjust="spacingAndGlyphs" transform="translate(501.18,133.40) rotate(-90)">Edinburgh</text>
<line x1="504.99" y1="127.05" x2="504.99" y2="130.45" stroke="#1a1a1a" stroke-width="0.9"/>
<text font-size="7.00" fill="#0072B2" stroke="#0072B2" stroke-width="0.15" text-anchor="end" textLength="26.24" lengthAdjust="spacingAndGlyphs" transform="translate(507.34,133.40) rotate(-90)">Helsinki</text>
<line x1="511.15" y1="127.05" x2="511.15" y2="130.45" stroke="#1a1a1a" stroke-width="0.9"/>
<text font-size="7.00" fill="#D55E00" stroke="#D55E00" stroke-width="0.15" text-anchor="end" textLength="17.78" lengthAdjust="spacingAndGlyphs" transform="translate(513.50,133.40) rotate(-90)">Milan</text>
<line x1="517.32" y1="127.05" x2="517.32" y2="130.45" stroke="#1a1a1a" stroke-width="0.9"/>
<text font-size="7.00" fill="#CC79A7" stroke="#CC79A7" stroke-width="0.15" text-anchor="end" textLength="23.30" lengthAdjust="spacingAndGlyphs" transform="translate(519.67,133.40) rotate(-90)">Prague</text>
<line x1="523.48" y1="127.05" x2="523.48" y2="130.45" stroke="#1a1a1a" stroke-width="0.9"/>
<text font-size="7.00" fill="#000000" stroke="#000000" stroke-width="0.15" text-anchor="end" textLength="30.72" lengthAdjust="spacingAndGlyphs" transform="translate(525.83,133.40) rotate(-90)">Auckland</text>
<line x1="529.64" y1="127.05" x2="529.64" y2="130.45" stroke="#1a1a1a" stroke-width="0.9"/>
<text font-size="7.00" fill="#E69F00" stroke="#E69F00" stroke-width="0.15" text-anchor="end" textLength="31.55" lengthAdjust="spacingAndGlyphs" transform="translate(531.99,133.40) rotate(-90)">Budapest</text>
<line x1="535.80" y1="127.05" x2="535.80" y2="130.45" stroke="#1a1a1a" stroke-width="0.9"/>
<text font-size="7.00" fill="#56B4E9" stroke="#56B4E9" stroke-width="0.15" text-anchor="end" textLength="23.96" lengthAdjust="spacingAndGlyphs" transform="translate(538.15,133.40) rotate(-90)">Munich</text>
<line x1="541.97" y1="127.05" x2="541.97" y2="130.45" stroke="#1a1a1a" stroke-width="0.9"/>
<text font-size="7.00" fill="#666600" stroke="#666600" stroke-width="0.15" text-anchor="end" textLength="22.92" lengthAdjust="spacingAndGlyphs" transform="translate(544.32,133.40) rotate(-90)">Vienna</text>
<line x1="548.13" y1="127.05" x2="548.13" y2="130.45" stroke="#1a1a1a" stroke-width="0.9"/>
<text font-size="7.00" fill="#0072B2" stroke="#0072B2" stroke-width="0.15" text-anchor="end" textLength="27.55" lengthAdjust="spacingAndGlyphs" transform="translate(550.48,133.40) rotate(-90)">Sapporo</text>
<line x1="554.29" y1="127.05" x2="554.29" y2="130.45" stroke="#1a1a1a" stroke-width="0.9"/>
<text font-size="7.00" fill="#D55E00" stroke="#D55E00" stroke-width="0.15" text-anchor="end" textLength="33.28" lengthAdjust="spacingAndGlyphs" transform="translate(556.64,133.40) rotate(-90)">Barcelona</text>
<line x1="560.46" y1="127.05" x2="560.46" y2="130.45" stroke="#1a1a1a" stroke-width="0.9"/>
<text font-size="7.00" fill="#CC79A7" stroke="#CC79A7" stroke-width="0.15" text-anchor="end" textLength="26.02" lengthAdjust="spacingAndGlyphs" transform="translate(562.81,133.40) rotate(-90)">Warsaw</text>
<line x1="566.62" y1="127.05" x2="566.62" y2="130.45" stroke="#1a1a1a" stroke-width="0.9"/>
<text font-size="7.00" fill="#000000" stroke="#000000" stroke-width="0.15" text-anchor="end" textLength="29.32" lengthAdjust="spacingAndGlyphs" transform="translate(568.97,133.40) rotate(-90)">Montreal</text>
<line x1="572.78" y1="127.05" x2="572.78" y2="130.45" stroke="#1a1a1a" stroke-width="0.9"/>
<text font-size="7.00" fill="#E69F00" stroke="#E69F00" stroke-width="0.15" text-anchor="end" textLength="35.19" lengthAdjust="spacingAndGlyphs" transform="translate(575.13,133.40) rotate(-90)">Rotterdam</text>
<line x1="578.95" y1="127.05" x2="578.95" y2="130.45" stroke="#1a1a1a" stroke-width="0.9"/>
<text font-size="7.00" fill="#56B4E9" stroke="#56B4E9" stroke-width="0.15" text-anchor="end" textLength="23.09" lengthAdjust="spacingAndGlyphs" transform="translate(581.30,133.40) rotate(-90)">Athens</text>
<line x1="585.11" y1="127.05" x2="585.11" y2="130.45" stroke="#1a1a1a" stroke-width="0.9"/>
<text font-size="7.00" fill="#666600" stroke="#666600" stroke-width="0.15" text-anchor="end" textLength="27.50" lengthAdjust="spacingAndGlyphs" transform="translate(587.46,133.40) rotate(-90)">Fukuoka</text>
<line x1="591.27" y1="127.05" x2="591.27" y2="130.45" stroke="#1a1a1a" stroke-width="0.9"/>
<text font-size="7.00" fill="#0072B2" stroke="#0072B2" stroke-width="0.15" text-anchor="end" textLength="35.06" lengthAdjust="spacingAndGlyphs" transform="translate(593.62,133.40) rotate(-90)">Milwaukee</text>
<line x1="597.43" y1="127.05" x2="597.43" y2="130.45" stroke="#1a1a1a" stroke-width="0.9"/>
<text font-size="7.00" fill="#D55E00" stroke="#D55E00" stroke-width="0.15" text-anchor="end" textLength="38.70" lengthAdjust="spacingAndGlyphs" transform="translate(599.78,133.40) rotate(-90)">Amsterdam</text>
<line x1="603.60" y1="127.05" x2="603.60" y2="130.45" stroke="#1a1a1a" stroke-width="0.9"/>
<text font-size="7.00" fill="#CC79A7" stroke="#CC79A7" stroke-width="0.15" text-anchor="end" textLength="19.36" lengthAdjust="spacingAndGlyphs" transform="translate(605.95,133.40) rotate(-90)">Berlin</text>
<line x1="609.76" y1="127.05" x2="609.76" y2="130.45" stroke="#1a1a1a" stroke-width="0.9"/>
<text font-size="7.00" fill="#000000" stroke="#000000" stroke-width="0.15" text-anchor="end" textLength="19.02" lengthAdjust="spacingAndGlyphs" transform="translate(612.11,133.40) rotate(-90)">Rome</text>
<line x1="615.92" y1="127.05" x2="615.92" y2="130.45" stroke="#1a1a1a" stroke-width="0.9"/>
<text font-size="7.00" fill="#E69F00" stroke="#E69F00" stroke-width="0.15" text-anchor="end" textLength="22.91" lengthAdjust="spacingAndGlyphs" transform="translate(618.27,133.40) rotate(-90)">Madrid</text>
<line x1="622.09" y1="127.05" x2="622.09" y2="130.45" stroke="#1a1a1a" stroke-width="0.9"/>
<text font-size="7.00" fill="#56B4E9" stroke="#56B4E9" stroke-width="0.15" text-anchor="end" textLength="15.88" lengthAdjust="spacingAndGlyphs" transform="translate(624.44,133.40) rotate(-90)">Paris</text>
<line x1="628.25" y1="127.05" x2="628.25" y2="130.45" stroke="#1a1a1a" stroke-width="0.9"/>
<text font-size="7.00" fill="#666600" stroke="#666600" stroke-width="0.15" text-anchor="end" textLength="23.93" lengthAdjust="spacingAndGlyphs" transform="translate(630.60,133.40) rotate(-90)">Atlanta</text>
<line x1="634.41" y1="127.05" x2="634.41" y2="130.45" stroke="#1a1a1a" stroke-width="0.9"/>
<text font-size="7.00" fill="#0072B2" stroke="#0072B2" stroke-width="0.15" text-anchor="end" textLength="39.75" lengthAdjust="spacingAndGlyphs" transform="translate(636.76,133.40) rotate(-90)">Minneapolis</text>
<line x1="640.58" y1="127.05" x2="640.58" y2="130.45" stroke="#1a1a1a" stroke-width="0.9"/>
<text font-size="7.00" fill="#D55E00" stroke="#D55E00" stroke-width="0.15" text-anchor="end" textLength="20.65" lengthAdjust="spacingAndGlyphs" transform="translate(642.93,133.40) rotate(-90)">Osaka</text>
<line x1="646.74" y1="127.05" x2="646.74" y2="130.45" stroke="#1a1a1a" stroke-width="0.9"/>
<text font-size="7.00" fill="#CC79A7" stroke="#CC79A7" stroke-width="0.15" text-anchor="end" textLength="23.06" lengthAdjust="spacingAndGlyphs" transform="translate(649.09,133.40) rotate(-90)">Boston</text>
<line x1="652.90" y1="127.05" x2="652.90" y2="130.45" stroke="#1a1a1a" stroke-width="0.9"/>
<text font-size="7.00" fill="#000000" stroke="#000000" stroke-width="0.15" text-anchor="end" textLength="18.67" lengthAdjust="spacingAndGlyphs" transform="translate(655.25,133.40) rotate(-90)">Tokyo</text>
<line x1="659.06" y1="127.05" x2="659.06" y2="130.45" stroke="#1a1a1a" stroke-width="0.9"/>
<text font-size="7.00" fill="#E69F00" stroke="#E69F00" stroke-width="0.15" text-anchor="end" textLength="18.50" lengthAdjust="spacingAndGlyphs" transform="translate(661.41,133.40) rotate(-90)">Seoul</text>
<line x1="665.23" y1="127.05" x2="665.23" y2="130.45" stroke="#1a1a1a" stroke-width="0.9"/>
<text font-size="7.00" fill="#56B4E9" stroke="#56B4E9" stroke-width="0.15" text-anchor="end" textLength="20.49" lengthAdjust="spacingAndGlyphs" transform="translate(667.58,133.40) rotate(-90)">Dallas</text>
<line x1="474.95" y1="6.95" x2="471.55" y2="6.95" stroke="#1a1a1a" stroke-width="1.0"/>
<text x="469.30" y="10.95" font-size="11.13" fill="#000" stroke="#000" stroke-width="0.23" text-anchor="end" textLength="13.49" lengthAdjust="spacingAndGlyphs">20</text>
<line x1="474.95" y1="38.15" x2="471.55" y2="38.15" stroke="#1a1a1a" stroke-width="1.0"/>
<text x="469.30" y="42.15" font-size="11.13" fill="#000" stroke="#000" stroke-width="0.23" text-anchor="end" textLength="6.74" lengthAdjust="spacingAndGlyphs">0</text>
<line x1="474.95" y1="69.35" x2="471.55" y2="69.35" stroke="#1a1a1a" stroke-width="1.0"/>
<text x="469.30" y="73.35" font-size="11.13" fill="#000" stroke="#000" stroke-width="0.23" text-anchor="end" textLength="22.37" lengthAdjust="spacingAndGlyphs">−20</text>
<line x1="474.95" y1="100.55" x2="471.55" y2="100.55" stroke="#1a1a1a" stroke-width="1.0"/>
<text x="469.30" y="104.55" font-size="11.13" fill="#000" stroke="#000" stroke-width="0.23" text-anchor="end" textLength="22.37" lengthAdjust="spacingAndGlyphs">−40</text>
<rect x="474.95" y="4.4" width="202.00" height="122.65" fill="none" stroke="#1a1a1a" stroke-width="0.85"/>
<g transform="translate(440.60,65.40) rotate(-90)">
<text x="-36.49" y="0.00" font-size="15.49" fill="#000" stroke="#000" stroke-width="0.32" text-anchor="start" textLength="72.99" lengthAdjust="spacingAndGlyphs">% change</text>
</g>
</svg>
</body></html>
